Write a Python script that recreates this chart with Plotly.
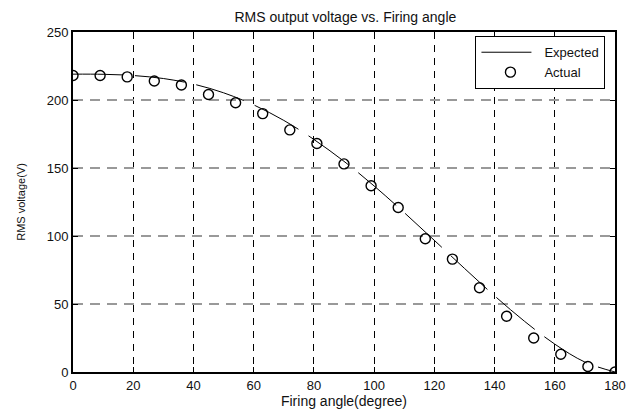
import plotly.graph_objects as go

# Expected curve
exp_angle = [0, 10, 20, 30, 40, 50, 60, 70, 80, 90, 100, 110, 120, 130, 140, 150, 160, 170, 180]
exp_volt = [219, 218.9, 218, 215.8, 211.7, 205.3, 196.4, 185, 171, 154.9, 136.8, 117.2, 96.8, 76.2, 56, 37.2, 20.5, 7.3, 0]

# Actual measured points
act_angle = [0, 9, 18, 27, 36, 45, 54, 63, 72, 81, 90, 99, 108, 117, 126, 135, 144, 153, 162, 171, 180]
act_volt = [218, 218, 217, 214, 211, 204, 198, 190, 178, 168, 153, 137, 121, 98, 83, 62, 41, 25, 13, 4, 0]

x_ticks = [0, 20, 40, 60, 80, 100, 120, 140, 160, 180]
y_ticks = [0, 50, 100, 150, 200, 250]

fig = go.Figure()
fig.add_trace(go.Scatter(x=exp_angle, y=exp_volt, mode="lines", name="Expected",
                         line=dict(color="black", width=1, shape="spline", dash="50px,12px")))
fig.add_trace(go.Scatter(x=act_angle, y=act_volt, mode="markers", name="Actual",
                         marker=dict(symbol="circle-open", size=10, color="black",
                                     line=dict(width=1.4, color="black"))))

font = dict(family="Liberation Sans, Arial, sans-serif", size=13, color="#111111")
fig.update_layout(
    width=639, height=409,
    margin=dict(l=63, r=32, t=24, b=45),
    paper_bgcolor="white", plot_bgcolor="white",
    font=font,
    title=dict(text="RMS output voltage vs. Firing angle", x=0.528, xanchor="center",
               y=0.989, yanchor="top", pad=dict(t=0, b=0), font=dict(size=14)),
    showlegend=True,
    legend=dict(x=0.982, y=0.988, xanchor="right", yanchor="top",
                bordercolor="black", borderwidth=1.2, bgcolor="white",
                font=dict(size=13), itemwidth=58, tracegroupgap=0),
    xaxis=dict(range=[0, 180], tickvals=x_ticks, showline=True, linecolor="black", linewidth=2,
               mirror="ticks", ticks="inside", ticklen=5, tickcolor="black",
               showgrid=True, gridcolor="black", griddash="7px,6px", gridwidth=1.4,
               zeroline=False, title=dict(text="Firing angle(degree)", standoff=1, font=dict(size=14)),
               tickfont=dict(size=13)),
    yaxis=dict(range=[0, 250], tickvals=y_ticks, showline=True, linecolor="black", linewidth=2,
               mirror="ticks", ticks="inside", ticklen=5, tickcolor="black",
               showgrid=True, gridcolor="#999999", griddash="10px,7px", gridwidth=2,
               zeroline=False, title=dict(text="RMS voltage(V)", standoff=19, font=dict(size=11)),
               tickfont=dict(size=13)),
)

fig.write_html("out.html")
